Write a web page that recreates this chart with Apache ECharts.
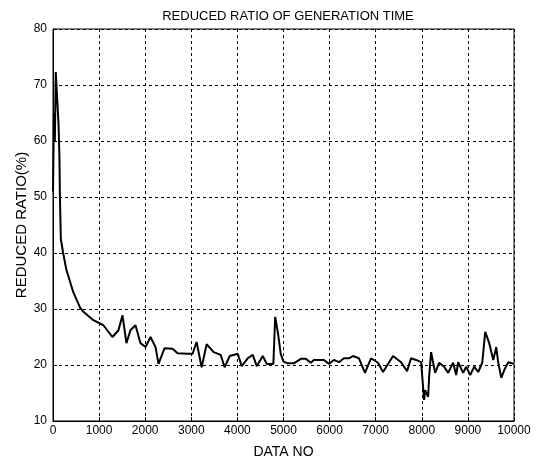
<!doctype html>
<html>
<head>
<meta charset="utf-8">
<title>Reduced ratio of generation time</title>
<style>
  html, body { margin: 0; padding: 0; background: #fff; }
  #main { width: 544px; height: 460px; }
</style>
</head>
<body>
<div id="main"></div>
<script src="https://cdn.jsdelivr.net/npm/echarts@6/dist/echarts.min.js"></script>
<script>
var dataNo = [0, 20, 40, 60, 100, 120, 140, 150, 170, 220, 290, 440, 590, 660, 876, 1093,
  1289, 1420, 1507, 1593, 1680, 1789, 1898, 2007, 2115, 2224, 2289, 2420, 2593, 2702,
  2920, 3028, 3115, 3224, 3333, 3485, 3637, 3724, 3833, 4007, 4093, 4224, 4333, 4420,
  4550, 4637, 4780, 4820, 4860, 4880, 4940, 5000, 5093, 5224, 5376, 5485, 5593, 5659,
  5876, 5985, 6093, 6202, 6311, 6420, 6507, 6637, 6767, 6898, 7050, 7159, 7376, 7550,
  7680, 7767, 7876, 7985, 8050, 8072, 8137, 8159, 8202, 8289, 8376, 8485, 8572, 8680,
  8746, 8789, 8898, 8963, 9050, 9137, 9224, 9311, 9376, 9463, 9550, 9615, 9659, 9724,
  9789, 9876, 10000];
var reducedRatio = [51, 65, 60, 72.3, 72, 63, 57, 50, 42.5, 40, 37, 33, 30.2, 29.5, 28, 27.1,
  25, 26.2, 28.9, 23.9, 26.2, 27.1, 23.9, 23.2, 25, 23.2, 20.2, 23.0, 22.9, 22.1,
  22, 22, 24.1, 19.6, 23.7, 22.3, 21.8, 19.6, 21.6, 22, 19.8, 21.2, 21.8, 19.8,
  21.6, 20.2, 20.2, 28.6, 28.4, 25.7, 22, 20.6, 20.3, 20.3, 21.1, 21.1, 20.4, 20.9,
  20.9, 20.2, 20.9, 20.5, 21.2, 21.2, 21.6, 21.2, 18.6, 21.2, 20.4, 18.75, 21.6, 20.5,
  18.9, 21.2, 20.9, 20.5, 13.75, 15.5, 14.3, 17.9, 22.3, 18.6, 20.4, 19.7, 18.6, 20.4,
  18.2, 20.5, 18.6, 19.7, 18.2, 19.7, 18.75, 20.4, 25.9, 23.9, 20.9, 23.2, 20.4, 17.7,
  19.1, 20.5, 20.2];

var points = dataNo.map(function (x, i) { return [x, reducedRatio[i]]; });

var font = 'Liberation Sans, Arial, sans-serif';
var myChart = echarts.init(document.getElementById('main'));

myChart.setOption({
  animation: false,
  backgroundColor: '#fff',
  title: {
    text: 'REDUCED RATIO OF GENERATION TIME',
    left: 283,
    top: 5,
    textAlign: 'center',
    textStyle: { fontFamily: font, fontSize: 13, fontWeight: 'normal', color: '#000' }
  },
  grid: {
    left: 53, right: 30, top: 29, bottom: 39,
    outerBoundsMode: 'none',
    containLabel: false,
    show: true, borderColor: '#000', borderWidth: 1, backgroundColor: '#fff'
  },
  xAxis: {
    type: 'value',
    min: 0, max: 10000, interval: 1000,
    name: 'DATA NO',
    nameLocation: 'middle',
    nameGap: 24,
    nameMoveOverlap: false,
    nameTextStyle: { fontFamily: font, fontSize: 14, color: '#000' },
    axisLine: { show: true, lineStyle: { color: '#000', width: 1 } },
    axisTick: { show: true, inside: true, length: 4, lineStyle: { color: '#000' } },
    axisLabel: {
      fontFamily: font, fontSize: 12, color: '#000', margin: 4,
      formatter: function (v) { return String(v); }
    },
    splitLine: { show: true, lineStyle: { color: '#000', type: [3, 3], width: 1 } }
  },
  yAxis: {
    type: 'value',
    min: 10, max: 80, interval: 10,
    name: 'REDUCED RATIO(%)',
    nameLocation: 'middle',
    nameGap: 24,
    nameMoveOverlap: false,
    nameTextStyle: { fontFamily: font, fontSize: 15, color: '#000' },
    axisLine: { show: true, lineStyle: { color: '#000', width: 1 } },
    axisTick: { show: true, inside: true, length: 4, lineStyle: { color: '#000' } },
    axisLabel: { fontFamily: font, fontSize: 12, color: '#000', margin: 6 },
    splitLine: { show: true, lineStyle: { color: '#000', type: [3, 3], width: 1 } }
  },
  series: [{
    type: 'line',
    data: points,
    showSymbol: false,
    symbol: 'none',
    lineStyle: { color: '#000', width: 2 },
    silent: true
  }]
});
</script>
</body>
</html>
